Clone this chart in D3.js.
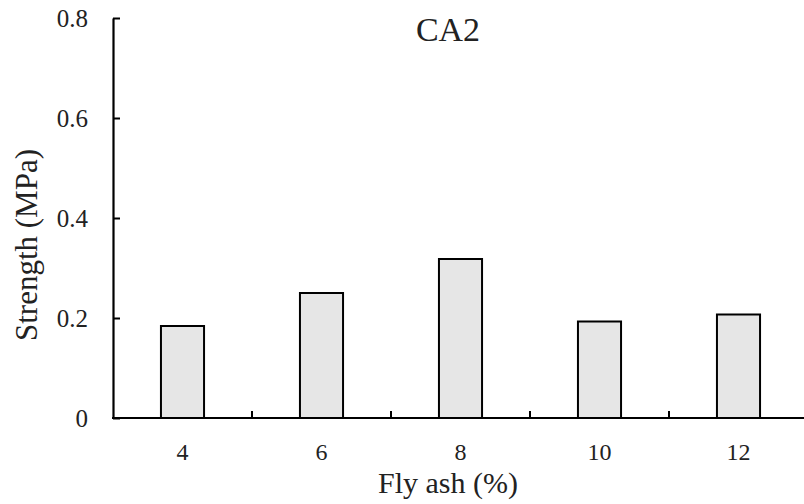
<!DOCTYPE html>
<html>
<head>
<meta charset="utf-8">
<title>CA2 strength</title>
<script src="https://cdn.jsdelivr.net/npm/d3@7"></script>
<style>
  body { margin: 0; background: #fff; }
</style>
</head>
<body>
<div id="chart"></div>
<script>
// values
var flyAsh = ["4", "6", "8", "10", "12"];
var strength = [0.184, 0.25, 0.318, 0.193, 0.207];
var yTicks = [0, 0.2, 0.4, 0.6, 0.8];

var W = 804, H = 504;
var mLeft = 113, mRight = 808, mTop = 18, mBottom = 418;
var serif = "'Liberation Serif'";

var svg = d3.select("#chart").append("svg")
    .attr("width", W).attr("height", H);

var x = d3.scaleBand().domain(flyAsh).range([mLeft, mRight]).paddingInner(0).paddingOuter(0);
var y = d3.scaleLinear().domain([0, 0.8]).range([mBottom, mTop]);

// bars
var bw = x.bandwidth() * 0.31;
svg.selectAll("rect.bar")
   .data(flyAsh)
   .enter().append("rect")
   .attr("class", "bar")
   .attr("x", function(d){ return x(d) + x.bandwidth()/2 - bw/2; })
   .attr("y", function(d, i){ return y(strength[i]); })
   .attr("width", bw)
   .attr("height", function(d, i){ return mBottom - y(strength[i]); })
   .attr("fill", "#e6e6e6")
   .attr("stroke", "#000")
   .attr("stroke-width", 2);

// y axis, ticks pointing inward
var yAxis = svg.append("g")
    .attr("transform", "translate(" + mLeft + ",0)")
    .call(d3.axisRight(y).tickValues(yTicks).tickSize(7).tickSizeOuter(0)
          .tickFormat(function(d){ return d === 0 ? "0" : d3.format(".1f")(d); }));
yAxis.select(".domain").attr("stroke", "#000").attr("stroke-width", 2.2);
yAxis.selectAll(".tick line").attr("stroke", "#000").attr("stroke-width", 2);
yAxis.selectAll(".tick text")
    .attr("x", -25).attr("text-anchor", "end").attr("dy", "0.33em")
    .attr("fill", "#222")
    .style("font-family", serif)
    .style("font-size", "25px");

// x axis: ticks at the band edges, pointing up
var xAxis = svg.append("g");
xAxis.append("line")
    .attr("x1", mLeft - 1).attr("x2", W).attr("y1", mBottom).attr("y2", mBottom)
    .attr("stroke", "#000").attr("stroke-width", 2.2);
xAxis.selectAll("line.tk")
    .data(flyAsh.slice(1))
    .enter().append("line")
    .attr("class", "tk")
    .attr("x1", function(d){ return x(d); }).attr("x2", function(d){ return x(d); })
    .attr("y1", mBottom).attr("y2", mBottom - 7)
    .attr("stroke", "#000").attr("stroke-width", 2);
xAxis.selectAll("text")
    .data(flyAsh)
    .enter().append("text")
    .attr("x", function(d){ return x(d) + x.bandwidth()/2; })
    .attr("y", 460)
    .attr("text-anchor", "middle")
    .attr("fill", "#222")
    .style("font-family", serif)
    .style("font-size", "24px")
    .text(function(d){ return d; });

// titles
function label(txt, size) {
  return svg.append("text").attr("text-anchor", "middle").attr("fill", "#222")
    .style("font-family", serif).style("font-size", size + "px").text(txt);
}
label("CA2", 34).attr("x", 448).attr("y", 41);
label("Fly ash (%)", 30).attr("x", 448).attr("y", 493);
label("Strength (MPa)", 31).attr("transform", "translate(37,245) rotate(-90)");
</script>
</body>
</html>
